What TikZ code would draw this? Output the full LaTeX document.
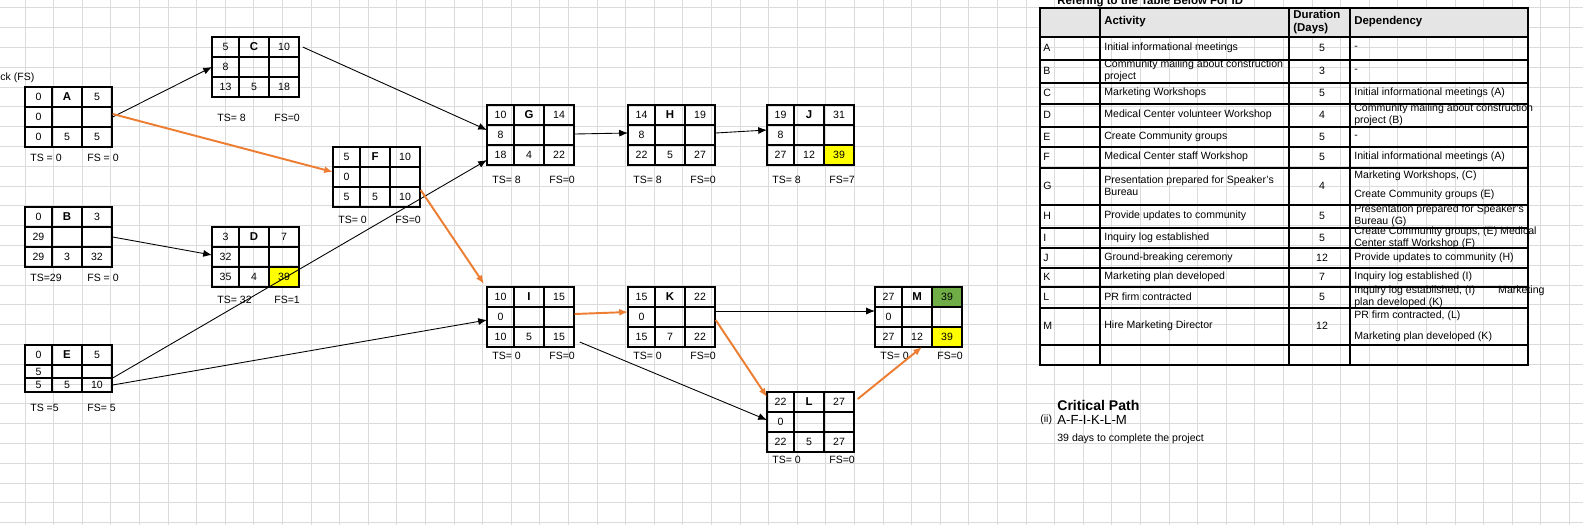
\documentclass[tikz,border=0pt]{standalone}
\usepackage{fontspec}
\setmainfont{Liberation Sans}
\usetikzlibrary{calc,arrows.meta}
\definecolor{org}{HTML}{ED7D31}
\definecolor{ylw}{HTML}{FFFF00}
\definecolor{grn}{HTML}{70AD47}
\tikzset{
 gridl/.style={draw=black!14,line width=0.5pt},
 cell/.style={draw,line width=0.6pt},
 txt/.style={font=\fontsize{6}{6.8}\selectfont,inner sep=0pt},
 btxt/.style={font=\fontsize{6.5}{7}\selectfont\bfseries,inner sep=0pt},
 conn/.style={draw,line width=0.5pt,-{Latex[length=5pt,width=4pt]}},
 crit/.style={draw=org,line width=1.1pt,-{Latex[length=5pt,width=4pt]}},
 boxn/.style={minimum width=1.74cm,minimum height=\rc*0.02cm,inner sep=0pt,anchor=north west}
}
\def\ra{20}\def\rb{40}\def\rc{60}
% #1 name, #2 (x,y), #3 tl, #4 tr, #5 ml, #6 bl, #7 bc, #8 br
\newcommand\pbox[8]{%
 \node[boxn] (#1) at #2 {};
 \begin{scope}[shift={#2}]
  \draw[cell] (0,0) rectangle (87,\rc);
  \draw[cell] (27,0)--(27,\rc) (57,0)--(57,\rc) (0,\ra)--(87,\ra) (0,\rb)--(87,\rb);
  \node[txt] at (13.5,\ra/2) {#3};
  \node[btxt] at (42,\ra/2) {#1};
  \node[txt] at (72,\ra/2) {#4};
  \node[txt] at (13.5,\ra/2+\rb/2) {#5};
  \node[txt] at (13.5,\rb/2+\rc/2) {#6};
  \node[txt] at (42,\rb/2+\rc/2) {#7};
  \node[txt] at (72,\rb/2+\rc/2) {#8};
 \end{scope}}
\newcommand\tsfs[4]{\node[txt,anchor=west] at (#1,#2) {#3}; \node[txt,anchor=west] at (#1+57,#2) {#4};}
\begin{document}
\begin{tikzpicture}[x=0.02cm,y=-0.02cm]
\useasboundingbox (0,0) rectangle (1583,525);
\fill[white] (0,0) rectangle (1583,525);
\foreach \i in {0,...,55} \draw[gridl] ({25+28.6*(\i-1)},0)--({25+28.6*(\i-1)},525);
\foreach \j in {0,...,26} \draw[gridl] (0,{7.8+19.8*\j})--(1583,{7.8+19.8*\j});
\node[txt,anchor=west] at (0,78) {ck (FS)};

% yellow / green fills
\fill[ylw] (269,267) rectangle (299,287);
\fill[ylw] (824,145) rectangle (854,165);
\fill[ylw] (932,327) rectangle (962,347);
\fill[grn] (932,287) rectangle (962,307);

\pbox{A}{(25,87)}{0}{5}{0}{0}{5}{5}
\tsfs{30}{158}{TS = 0}{FS = 0}
\pbox{C}{(212,37)}{5}{10}{8}{13}{5}{18}
\tsfs{217}{118}{TS= 8}{FS=0}
\pbox{F}{(333,147)}{5}{10}{0}{5}{5}{10}
\tsfs{338}{220}{TS= 0}{FS=0}
\pbox{B}{(25,207)}{0}{3}{29}{29}{3}{32}
\tsfs{30}{278}{TS=29}{FS = 0}
\pbox{D}{(212,227)}{3}{7}{32}{35}{4}{39}
\tsfs{217}{300}{TS= 32}{FS=1}
{\def\rb{33}\def\rc{47}
\pbox{E}{(25,345)}{0}{5}{5}{5}{5}{10}}
\tsfs{30}{408}{TS =5}{FS= 5}
\pbox{G}{(487,105)}{10}{14}{8}{18}{4}{22}
\tsfs{492}{180}{TS= 8}{FS=0}
\pbox{H}{(628,105)}{14}{19}{8}{22}{5}{27}
\tsfs{633}{180}{TS= 8}{FS=0}
\pbox{J}{(767,105)}{19}{31}{8}{27}{12}{39}
\tsfs{772}{180}{TS= 8}{FS=7}
\pbox{I}{(487,287)}{10}{15}{0}{10}{5}{15}
\tsfs{492}{356}{TS= 0}{FS=0}
\pbox{K}{(628,287)}{15}{22}{0}{15}{7}{22}
\tsfs{633}{356}{TS= 0}{FS=0}
\pbox{M}{(875,287)}{27}{39}{0}{27}{12}{39}
\tsfs{880}{356}{TS= 0}{FS=0}
\pbox{L}{(767,392)}{22}{27}{0}{22}{5}{27}
\tsfs{772}{460}{TS= 0}{FS=0}

% connectors
\draw[conn] ($(A.north east)+(0,30)$) -- ($(C.north west)+(0,30)$);
\draw[crit] ($(A.north east)+(0,27)$) -- ($(F.north west)+(0,25)$);
\draw[conn] ($(C.north east)+(3,10)$) -- ($(G.north west)+(0,25)$);
\draw[conn] ($(B.north east)+(0,30)$) -- ($(D.north west)+(0,28)$);
\draw[conn] ($(E.north east)+(0,33)$) -- ($(G.north west)+(0,55)$);
\draw[conn] ($(E.north east)+(0,40)$) -- ($(I.north west)+(0,33)$);
\draw[conn] ($(G.north east)+(0,29)$) -- ($(H.north west)+(0,28)$);
\draw[conn] ($(H.north east)+(0,28)$) -- ($(J.north west)+(0,25)$);
\draw[crit] ($(F.north east)+(0,43)$) -- ($(I.north west)+(-3,-3)$);
\draw[crit] ($(I.north east)+(0,27)$) -- ($(K.north west)+(0,25)$);
\draw[conn] ($(I.north east)+(5,55)$) -- ($(L.north west)+(0,28)$);
\draw[conn] ($(K.north east)+(0,24)$) -- ($(M.north west)+(0,24)$);
\draw[crit] ($(K.north east)+(0,33)$) -- ($(L.north west)+(0,5)$);
\draw[crit] ($(L.north east)+(3,7)$) -- ($(M.north west)+(47,60)$);

% table
\node[btxt,anchor=west] at (1057,2) {Refering to the Table Below For ID};
\fill[black!10] (1040,8) rectangle (1528,37);
\draw[line width=1.2pt] (1040,8) rectangle (1528,365);
\foreach \x in {1100,1289,1350} \draw[line width=1.2pt] (\x,8)--(\x,365);
\foreach \y in {37,60,83,104,127,147,168,205,228,248,268,287,308,345} \draw[line width=1.2pt] (1040,\y)--(1528,\y);
\node[btxt,anchor=west] at (1104,22) {Activity};
\node[btxt,anchor=west,align=left] at (1293,22) {Duration\\(Days)};
\node[btxt,anchor=west] at (1354,22) {Dependency};
\foreach \y/\l/\a/\d in {
 48/A/Initial informational meetings/5,
 71/B/{Community mailing about construction\\project}/3,
 93/C/Marketing Workshops/5,
 115/D/Medical Center volunteer Workshop/4,
 137/E/Create Community groups/5,
 157/F/Medical Center staff Workshop/5,
 186/G/{Presentation prepared for Speaker's\\Bureau}/4,
 216/H/Provide updates to community/5,
 238/I/Inquiry log established/5,
 258/J/Ground-breaking ceremony/12,
 277/K/Marketing plan developed/7,
 297/L/PR firm contracted/5,
 326/M/Hire Marketing Director/12}{
 \node[txt,anchor=west] at (1043,\y) {\l};
 \node[txt,anchor=west,align=left] at (1104,\y) {\a};
 \node[txt] at (1322,\y) {\d};
}
\foreach \y/\t in {48/-,71/-,93/Initial informational meetings (A),115/{Community mailing about construction\\project (B)},137/-,157/Initial informational meetings (A),
 176/{Marketing Workshops, (C)},195/Create Community groups (E),216/{Presentation prepared for Speaker's\\Bureau (G)},238/{Create Community groups, (E) Medical\\Center staff Workshop (F)},258/Provide updates to community (H),277/Inquiry log established (I),297/{Inquiry log established, (I)\hspace{2.2em}Marketing\\plan developed (K)},
 316/{PR firm contracted, (L)},337/Marketing plan developed (K)}{
 \node[txt,anchor=west,align=left] at (1354,\y) {\t};
}
\node[btxt,anchor=west,font=\fontsize{8}{9}\selectfont\bfseries] at (1057,405) {Critical Path};
\node[txt,anchor=west] at (1040,420) {(ii)};
\node[txt,anchor=west,font=\fontsize{7.5}{9}\selectfont] at (1057,420) {A-F-I-K-L-M};
\node[txt,anchor=west] at (1057,439) {39 days to complete the project};
\end{tikzpicture}
\end{document}
